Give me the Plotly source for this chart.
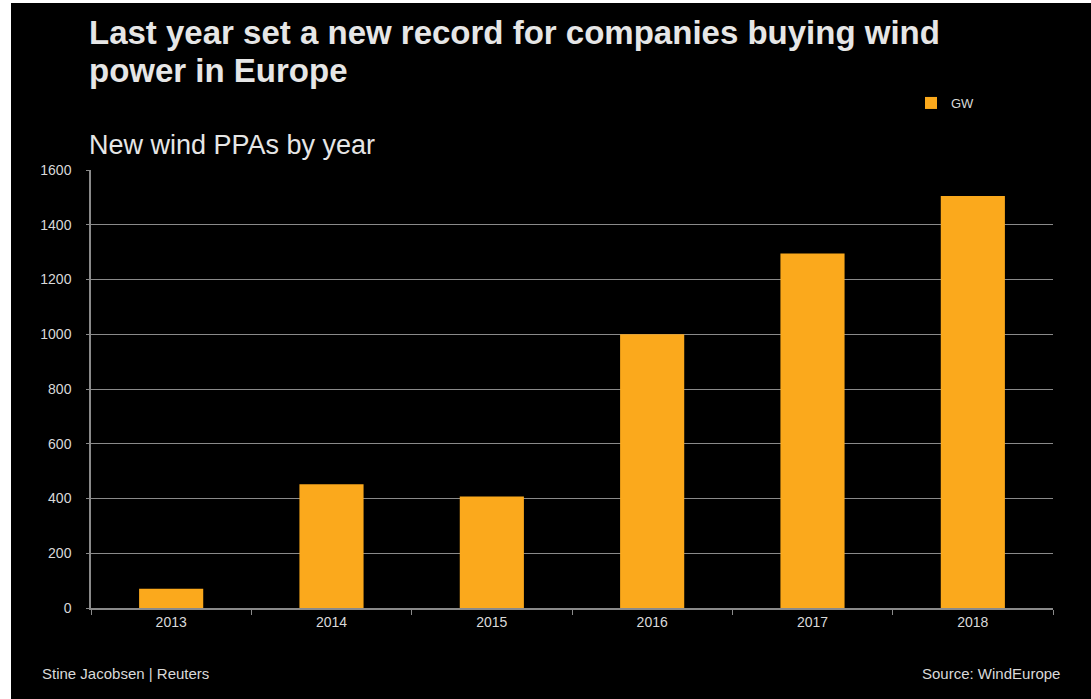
import plotly.graph_objects as go

years = ["2013", "2014", "2015", "2016", "2017", "2018"]
gw = [70, 452, 407, 1000, 1295, 1505]
y_ticks = [0, 200, 400, 600, 800, 1000, 1200, 1400, 1600]

W, H = 1091, 699
ML, MR, MT, MB = 91, 38, 170, 91
PW, PH = W - ML - MR, H - MT - MB

def px(x):
    return (x - ML) / PW

def py(y):
    return 1 - (y - MT) / PH

FONT = "Liberation Sans, Arial, sans-serif"
TXT = "#d9d9d9"
ORANGE = "#FBA91C"
GRID = "#8a8a8a"

fig = go.Figure()
fig.add_trace(go.Bar(x=years, y=gw, name="GW", marker=dict(color=ORANGE, line=dict(width=0)),
                     showlegend=True))

fig.update_layout(
    width=W, height=H,
    margin=dict(l=ML, r=MR, t=MT, b=MB),
    paper_bgcolor="#000000", plot_bgcolor="#000000",
    font=dict(family=FONT, color=TXT, size=14),
    bargap=0.6,
    legend=dict(x=px(911), y=py(103), xanchor="left", yanchor="middle",
                bgcolor="rgba(0,0,0,0)", font=dict(size=13, color=TXT),
                itemwidth=30),
    xaxis=dict(showline=True, linecolor=GRID, linewidth=1.5, ticks="outside",
               tickson="boundaries", ticklen=5, tickcolor=GRID, showgrid=False,
               tickfont=dict(size=14, color=TXT)),
    yaxis=dict(range=[0, 1600], tickvals=y_ticks, showline=True, linecolor=GRID,
               linewidth=1.5, showgrid=True, gridcolor=GRID, gridwidth=1,
               ticks="outside", ticklen=3, tickcolor=GRID, zeroline=False,
               ticklabelstandoff=12,
               tickfont=dict(size=14, color=TXT)),
)

shapes = [
    dict(type="rect", xref="paper", yref="paper", x0=px(0), x1=px(11), y0=py(H), y1=py(0),
         fillcolor="#ffffff", line=dict(width=0), layer="above"),
    dict(type="rect", xref="paper", yref="paper", x0=px(0), x1=px(W), y0=py(3), y1=py(0),
         fillcolor="#ffffff", line=dict(width=0), layer="above"),
]
fig.update_layout(shapes=shapes)

ann = [
    dict(text="<b>Last year set a new record for companies buying wind</b>",
         x=px(87), y=py(12), xanchor="left", yanchor="top", align="left",
         font=dict(size=33, color="#e6e6e6")),
    dict(text="<b>power in Europe</b>",
         x=px(87), y=py(50), xanchor="left", yanchor="top", align="left",
         font=dict(size=33, color="#e6e6e6")),
    dict(text="New wind PPAs by year", x=px(87), y=py(145), xanchor="left", yanchor="middle",
         font=dict(size=27, color="#e6e6e6")),
    dict(text="Stine Jacobsen | Reuters", x=px(40), y=py(673), xanchor="left", yanchor="middle",
         font=dict(size=15, color=TXT)),
    dict(text="Source: WindEurope", x=px(1062), y=py(673), xanchor="right", yanchor="middle",
         font=dict(size=15, color=TXT)),
]
for a in ann:
    a.update(xref="paper", yref="paper", showarrow=False)
fig.update_layout(annotations=ann)

fig.write_html("out.html", config={"displayModeBar": False},
               post_script="document.body.style.margin='0';document.body.style.overflow='hidden';")
